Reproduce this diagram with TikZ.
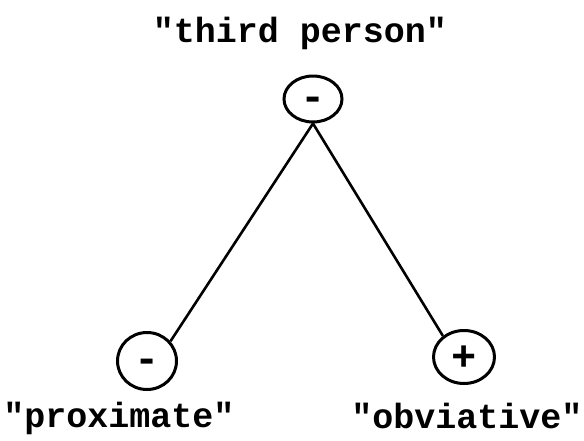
\documentclass[tikz,border=0pt]{standalone}
\usepackage{fontspec}
\setmonofont{Liberation Mono}
\usetikzlibrary{shapes.geometric}
\begin{document}
\begin{tikzpicture}[x=1pt,y=-1pt,
  feat/.style={ellipse,draw,line width=3pt,minimum width=#1,inner sep=0pt},
  lbl/.style={font=\ttfamily\bfseries\fontsize{35}{38}\selectfont,inner sep=0pt},
  sign/.style={font=\ttfamily\bfseries\fontsize{42}{42}\selectfont,inner sep=0pt,anchor=base},
  conn/.style={line width=2.6pt}]
\useasboundingbox (0,0) rectangle (584,440);
\node[feat=58pt,minimum height=46pt] (top) at (313,99) {};
\node[feat=59pt,minimum height=57pt] (left) at (147,361) {};
\node[feat=61pt,minimum height=53pt] (right) at (464,357) {};
\node[sign] (tm) at ([yshift=-11pt]top.center) {-};
\node[sign] (lm) at ([yshift=-11pt]left.center) {-};
\node[sign] (rp) at ([yshift=-13pt]right.center) {+};
\node[lbl] (tl) at (300,33) {"third person"};
\node[lbl] (ll) at (119,418) {"proximate"};
\node[lbl] (rl) at (467,416) {"obviative"};
\draw[conn] (top.south) -- (left.40);
\draw[conn] (top.south) -- (right.135);
\end{tikzpicture}
\end{document}
